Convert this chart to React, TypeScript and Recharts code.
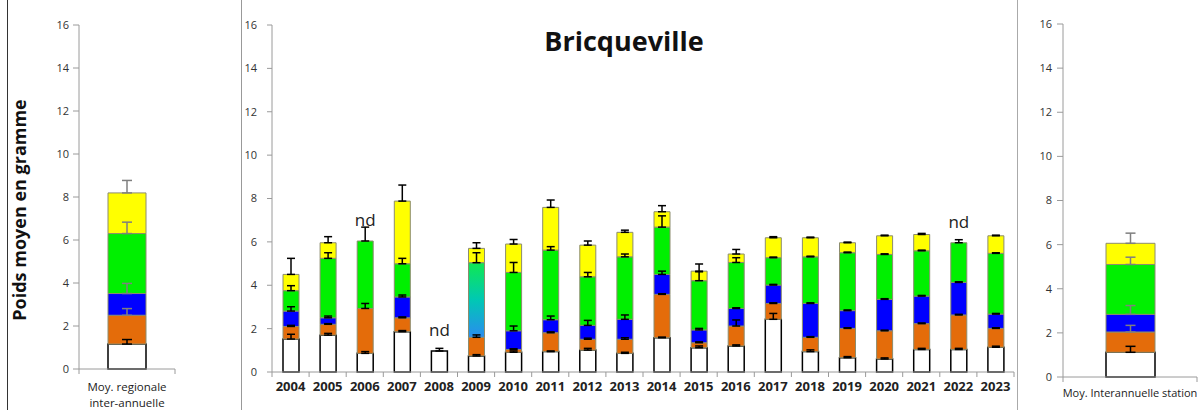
import React from "react";
import { BarChart, Bar, XAxis, YAxis, ErrorBar, Cell, LabelList } from "recharts";

// ---- data ----
const years = [
  2004, 2005, 2006, 2007, 2008, 2009, 2010, 2011, 2012, 2013,
  2014, 2015, 2016, 2017, 2018, 2019, 2020, 2021, 2022, 2023,
];
const white = [1.52, 1.7, 0.86, 1.86, 0.97, 0.74, 0.91, 0.94, 1.01, 0.86, 1.58, 1.12, 1.2, 2.43, 0.94, 0.66, 0.6, 1.04, 1.04, 1.14];
const orange = [0.58, 0.5, 2.07, 0.64, 0, 0.86, 0.13, 0.87, 0.5, 0.65, 2.0, 0.23, 0.92, 0.73, 0.66, 1.35, 1.3, 1.19, 1.59, 0.87];
const blue = [0.71, 0.3, 0, 0.96, 0, 0, 0.86, 0.6, 0.64, 0.92, 0.92, 0.59, 0.81, 0.85, 1.56, 0.82, 1.45, 1.27, 1.5, 0.66];
const green = [0.94, 2.74, 3.11, 1.53, 0, 3.44, 2.69, 3.21, 2.24, 2.88, 2.18, 2.27, 2.12, 1.26, 2.15, 2.67, 2.07, 2.09, 1.83, 2.8];
const yellow = [0.75, 0.72, 0, 2.89, 0, 0.66, 1.31, 1.97, 1.46, 1.13, 0.71, 0.44, 0.39, 0.92, 0.88, 0.46, 0.86, 0.75, 0, 0.81];

const whiteErr = [0.22, 0.08, 0.08, 0.05, 0.12, 0.06, 0.06, 0.03, 0.08, 0.05, 0.03, 0.08, 0.05, 0.27, 0.08, 0.05, 0.05, 0.05, 0.05, 0.05];
const orangeErr = [0.05, 0.03, 0.23, 0.04, 0, 0.11, 0.03, 0.04, 0.05, 0.07, 0.03, 0.04, 0.28, 0.03, 0.03, 0.03, 0.03, 0.03, 0.03, 0.03];
const blueErr = [0.2, 0.08, 0, 0.09, 0, 0, 0.22, 0.17, 0.23, 0.2, 0.15, 0.07, 0.03, 0.03, 0.03, 0.03, 0.03, 0.03, 0.03, 0.03];
const greenErr = [0.23, 0.26, 0.64, 0.25, 0, 0.46, 0.46, 0.16, 0.2, 0.13, 0.52, 0.41, 0.22, 0.03, 0.03, 0.03, 0.03, 0.03, 0.14, 0.03];
const yellowErr = [0.74, 0.28, 0, 0.74, 0, 0.26, 0.21, 0.34, 0.19, 0.1, 0.28, 0.33, 0.21, 0.05, 0.03, 0.03, 0.03, 0.05, 0, 0.03];

const notes = ["", "", "nd", "", "nd", "", "", "", "", "", "", "", "", "", "", "", "", "", "nd", ""];
// years where blue and green were not separated (drawn as one blended segment)
const blendedYears = [2009];

const regionalLabel = ["Moy. regionale", "inter-annuelle"];
const regionalValues = [1.16, 1.34, 1.01, 2.79, 1.89];
const regionalErrors = [0.21, 0.31, 0.47, 0.53, 0.58];

const stationLabel = ["Moy. Interannuelle station"];
const stationValues = [1.12, 0.92, 0.8, 2.26, 0.96];
const stationErrors = [0.27, 0.3, 0.4, 0.33, 0.46];

const yTicks = [0, 2, 4, 6, 8, 10, 12, 14, 16];
const title = "Bricqueville";
const yTitle = "Poids moyen en gramme";

// ---- styles ----
const segments = ["white", "orange", "blue", "green", "yellow"];
const COLORS = ["#ffffff", "#e46c0a", "#0000ff", "#00f000", "#ffff00"];
const FONT = "'Open Sans', sans-serif";
const AXIS = "#9a9a9a";

const errPair = (e: number) => (e > 0 ? [0, e] : undefined);

const yearData = years.map((y, i) => {
  const row: any = { year: String(y) };
  const vals = [white[i], orange[i], blue[i], green[i], yellow[i]];
  const errs = [whiteErr[i], orangeErr[i], blueErr[i], greenErr[i], yellowErr[i]];
  // the "nd" note sits on the highest non-empty segment
  let top = 0;
  vals.forEach((v, j) => {
    if (v > 0) top = j;
  });
  segments.forEach((k, j) => {
    row[k] = vals[j];
    row[k + "Err"] = errPair(errs[j]);
    row[k + "Note"] = j === top ? notes[i] : "";
  });
  return row;
});

const sideRow = (label: string[], vals: number[], errs: number[]) => {
  const row: any = { name: label.join("|") };
  segments.forEach((k, j) => {
    row[k] = vals[j];
    row[k + "Err"] = errPair(errs[j]);
    row[k + "Note"] = "";
  });
  return [row];
};

const regionalData = sideRow(regionalLabel, regionalValues, regionalErrors);
const stationData = sideRow(stationLabel, stationValues, stationErrors);

const NdLabel = (props: any) => {
  const { x, y, width, value } = props;
  if (!value) return null;
  return (
    <text x={x + width / 2} y={y - 15} textAnchor="middle" fontSize={17} fill="#222" fontFamily={FONT}>
      {value}
    </text>
  );
};

function stackBars(errColors: string[], capHalf: number, greenCells?: React.ReactNode) {
  return segments.map((k, j) => (
    <Bar
      key={k}
      dataKey={k}
      stackId="s"
      fill={COLORS[j]}
      stroke={j === 0 ? "#000" : "#8c8c6e"}
      strokeWidth={j === 0 ? 1.5 : 1}
      isAnimationActive={false}
    >
      {k === "green" ? greenCells : null}
      <ErrorBar
        dataKey={k + "Err"}
        direction="y"
        width={capHalf}
        stroke={errColors[j]}
        strokeWidth={1.5}
        isAnimationActive={false}
      />
      <LabelList dataKey={k + "Note"} content={NdLabel} />
    </Bar>
  ));
}

const makeXTick = (band: number, fontSize: number, bold: boolean, dy: number, lineGap: number) => (props: any) => {
  const { x, y, payload, index, visibleTicksCount } = props;
  const lines = String(payload.value).split("|");
  const last = index === visibleTicksCount - 1;
  return (
    <g>
      <line x1={x - band / 2} y1={y} x2={x - band / 2} y2={y + 5} stroke={AXIS} />
      {last ? <line x1={x + band / 2} y1={y} x2={x + band / 2} y2={y + 5} stroke={AXIS} /> : null}
      {lines.map((t, i) => (
        <text
          key={i}
          x={x}
          y={y + dy + i * lineGap}
          textAnchor="middle"
          fontSize={fontSize}
          fontWeight={bold ? 700 : 400}
          fill="#222"
          fontFamily={FONT}
        >
          {t}
        </text>
      ))}
    </g>
  );
};

const yTickStyle = { fontSize: 11, fill: "#333", fontFamily: FONT };

// layout of the three panels
const Y_W = 30;
const MID = { left: 240, w: 790, m: { top: 25, right: 16, bottom: 10, left: 2 } };
const midBand = (MID.w - MID.m.left - MID.m.right - Y_W) / years.length;
const LEFT = { left: 0, w: 200, m: { top: 25, right: 25, bottom: 11, left: 49 } };
const leftBand = LEFT.w - LEFT.m.left - LEFT.m.right - Y_W;
const RIGHT = { left: 1020, w: 180, m: { top: 24, right: 3, bottom: 8, left: 13 } };
const rightBand = RIGHT.w - RIGHT.m.left - RIGHT.m.right - Y_W;

const greyErr = ["#000", "#7f7f7f", "#7f7f7f", "#7f7f7f", "#7f7f7f"];
const blackErr = ["#000", "#000", "#000", "#000", "#000"];

export default function App() {
  const greenCells = years.map((y) => (
    <Cell key={y} fill={blendedYears.includes(y) ? "url(#blend)" : COLORS[3]} />
  ));
  return (
    <div style={{ position: "absolute", left: 0, top: 0, width: 1200, height: 410, background: "#fff", overflow: "hidden" }}>
      {/* panel separators */}
      <div style={{ position: "absolute", left: 7, top: 0, width: 1, height: 410, background: "#333" }} />
      <div style={{ position: "absolute", left: 241, top: 0, width: 1, height: 410, background: "#999" }} />
      <div style={{ position: "absolute", left: 1017, top: 0, width: 1, height: 410, background: "#aaa" }} />

      <svg width={40} height={410} style={{ position: "absolute", left: 0, top: 0 }}>
        <text
          transform="translate(19,210) rotate(-90)"
          textAnchor="middle"
          dominantBaseline="central"
          fontSize={18}
          fontWeight={700}
          fill="#111"
          fontFamily={FONT}
        >
          {yTitle}
        </text>
      </svg>

      <div style={{ position: "absolute", left: LEFT.left, top: 0 }}>
        <BarChart width={LEFT.w} height={410} data={regionalData} margin={LEFT.m} barSize={38}>
          <XAxis
            dataKey="name"
            axisLine={{ stroke: AXIS }}
            tickLine={false}
            tickSize={0}
            tickMargin={0}
            height={30}
            interval={0}
            tick={makeXTick(leftBand, 11.5, false, 22, 16)}
          />
          <YAxis
            width={Y_W}
            domain={[0, 16]}
            ticks={yTicks}
            axisLine={{ stroke: AXIS }}
            tickLine={{ stroke: AXIS }}
            tickSize={6}
            tickMargin={4}
            tick={yTickStyle}
          />
          {stackBars(greyErr, 5)}
        </BarChart>
      </div>

      <div style={{ position: "absolute", left: MID.left, top: 0 }}>
        <BarChart width={MID.w} height={410} data={yearData} margin={MID.m} barSize={16}>
          <defs>
            <linearGradient id="blend" x1="0" y1="0" x2="0" y2="1">
              <stop offset="0%" stopColor="#10e850" />
              <stop offset="50%" stopColor="#00c8b4" />
              <stop offset="100%" stopColor="#2a8cf0" />
            </linearGradient>
          </defs>
          <XAxis
            dataKey="year"
            axisLine={{ stroke: AXIS }}
            tickLine={false}
            tickSize={0}
            tickMargin={0}
            height={28}
            interval={0}
            tick={makeXTick(midBand, 13, true, 19, 0)}
          />
          <YAxis
            width={Y_W}
            domain={[0, 16]}
            ticks={yTicks}
            axisLine={{ stroke: AXIS }}
            tickLine={{ stroke: AXIS }}
            tickSize={5}
            tickMargin={10}
            tick={yTickStyle}
          />
          {stackBars(blackErr, 4, greenCells)}
        </BarChart>
      </div>

      <div style={{ position: "absolute", left: RIGHT.left, top: 0 }}>
        <BarChart width={RIGHT.w} height={410} data={stationData} margin={RIGHT.m} barSize={49}>
          <XAxis
            dataKey="name"
            axisLine={{ stroke: AXIS }}
            tickLine={false}
            tickSize={0}
            tickMargin={0}
            height={25}
            interval={0}
            tick={makeXTick(rightBand, 11, false, 20, 0)}
          />
          <YAxis
            width={Y_W}
            domain={[0, 16]}
            ticks={yTicks}
            axisLine={{ stroke: AXIS }}
            tickLine={{ stroke: AXIS }}
            tickSize={6}
            tickMargin={5}
            tick={yTickStyle}
          />
          {stackBars(greyErr, 5)}
        </BarChart>
      </div>

      <div
        style={{
          position: "absolute",
          left: 474,
          width: 300,
          top: 25,
          lineHeight: "32px",
          textAlign: "center",
          fontFamily: FONT,
          fontWeight: 700,
          fontSize: 27,
          color: "#111",
        }}
      >
        {title}
      </div>
    </div>
  );
}
